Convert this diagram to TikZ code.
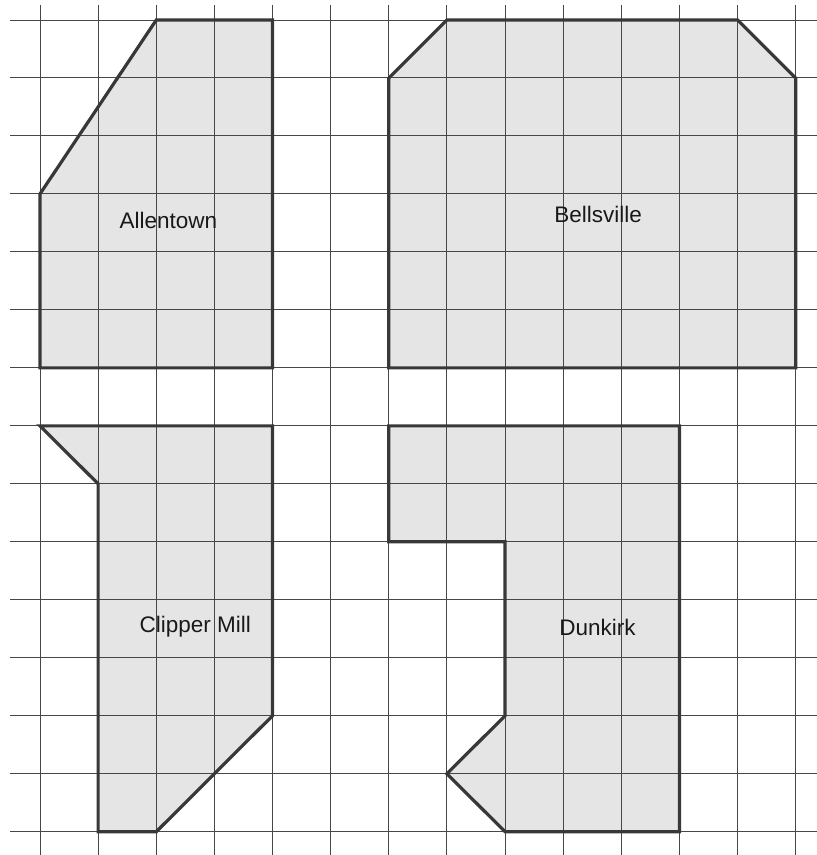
\documentclass[tikz,border=0pt]{standalone}
\usepackage{fontspec}
\setmainfont{Liberation Sans}
\begin{document}
\begin{tikzpicture}[x=58.13pt,y=-57.98pt,
  region/.style={fill=black!10},
  outline/.style={draw=black!78,line width=3.2pt,line join=miter},
  gridline/.style={draw=black!72,line width=1pt},
  lbl/.style={font=\fontsize{22.5}{27}\selectfont,text=black!90,inner sep=0pt}]
\useasboundingbox (-40pt,20pt) rectangle (777pt,-835pt);
% fills
\path[region] (2,0) -- (4,0) -- (4,6) -- (0,6) -- (0,3) -- cycle;
\path[region] (7,0) -- (12,0) -- (13,1) -- (13,6) -- (6,6) -- (6,1) -- cycle;
\path[region] (0,7) -- (4,7) -- (4,12) -- (2,14) -- (1,14) -- (1,8) -- cycle;
\path[region] (6,7) -- (11,7) -- (11,14) -- (8,14) -- (7,13) -- (8,12) -- (8,9) -- (6,9) -- cycle;
% grid
\foreach \j in {0,...,14} \draw[gridline] (-0.516,\j) -- (13.37,\j);
\foreach \i in {0,...,13} \draw[gridline] (\i,-0.26) -- (\i,14.41);
% outlines
\draw[outline] (2,0) -- (4,0) -- (4,6) -- (0,6) -- (0,3) -- cycle;
\draw[outline] (7,0) -- (12,0) -- (13,1) -- (13,6) -- (6,6) -- (6,1) -- cycle;
\draw[outline] (0,7) -- (4,7) -- (4,12) -- (2,14) -- (1,14) -- (1,8) -- cycle;
\draw[outline] (6,7) -- (11,7) -- (11,14) -- (8,14) -- (7,13) -- (8,12) -- (8,9) -- (6,9) -- cycle;
% labels
\node[lbl] (allentown) at (2.21,3.45) {Allentown};
\node[lbl] (bellsville) at (9.6,3.36) {Bellsville};
\node[lbl] (clipper) at (2.67,10.47) {Clipper Mill};
\node[lbl] (dunkirk) at (9.59,10.47) {Dunkirk};
\end{tikzpicture}
\end{document}
